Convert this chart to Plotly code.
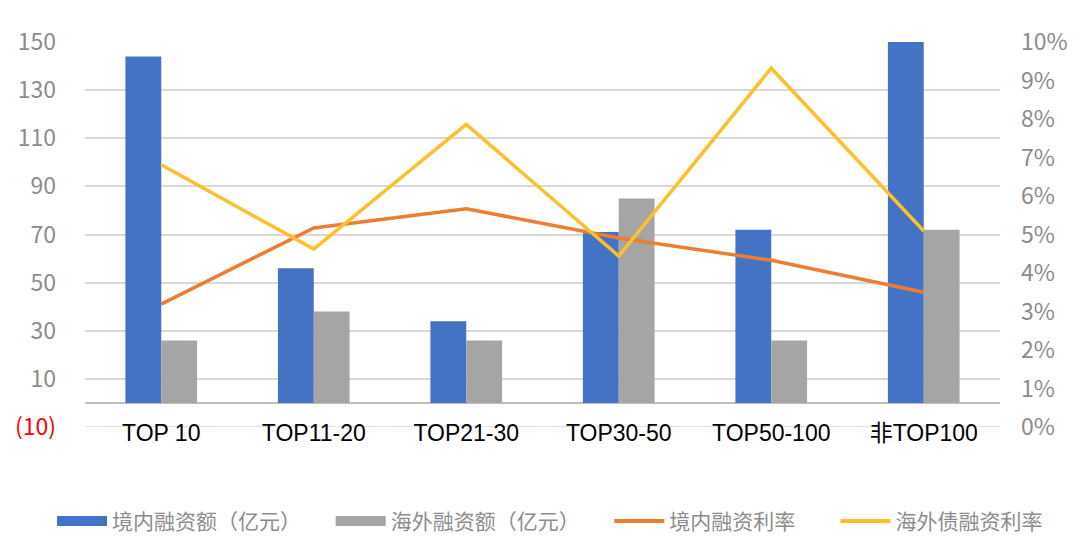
import plotly.graph_objects as go

# -----------------------------------------
# DATA
# -----------------------------------------
categories = ["TOP 10", "TOP11-20", "TOP21-30", "TOP30-50", "TOP50-100", "非TOP100"]
domestic_amount = [144, 56, 34, 71, 72, 160]   # 境内融资额 (亿元), last bar runs off the top
overseas_amount = [26, 38, 26, 85, 26, 72]     # 海外融资额 (亿元)
domestic_rate = [0.0319, 0.0517, 0.0567, 0.0491, 0.0433, 0.0350]
overseas_rate = [0.0681, 0.0462, 0.0786, 0.0444, 0.0932, 0.0509]

left_ticks = [-10, 10, 30, 50, 70, 90, 110, 130, 150]
left_text = ["<span style='color:#FF0000'>(10)</span>"] + [str(v) for v in left_ticks[1:]]

FONT = "Noto Sans CJK SC"
BLUE, GREY, ORANGE, YELLOW = "#4472C4", "#A5A5A5", "#ED7D31", "#FFC02E"
PAD = "\u3000\u00a0\u00a0\u00a0"   # extra room after each legend label

fig = go.Figure()

fig.add_trace(go.Bar(x=categories, y=domestic_amount, name="境内融资额（亿元）",
                     marker=dict(color=BLUE, line=dict(width=0)), showlegend=False))
fig.add_trace(go.Bar(x=categories, y=overseas_amount, name="海外融资额（亿元）",
                     marker=dict(color=GREY, line=dict(width=0)), showlegend=False))
fig.add_trace(go.Scatter(x=categories, y=domestic_rate, name="境内融资利率", yaxis="y2",
                         mode="lines", line=dict(color=ORANGE, width=3.5), showlegend=False))
fig.add_trace(go.Scatter(x=categories, y=overseas_rate, name="海外债融资利率", yaxis="y2",
                         mode="lines", line=dict(color=YELLOW, width=3.5), showlegend=False))

# legend entries: wide blocks for the bars, thin strokes for the lines
for name, color, w in [("境内融资额（亿元）" + PAD, BLUE, 12), ("海外融资额（亿元）" + PAD, GREY, 12),
                       ("境内融资利率" + PAD, ORANGE, 4), ("海外债融资利率", YELLOW, 4)]:
    fig.add_trace(go.Scatter(x=[None], y=[None], name=name, mode="lines",
                             line=dict(color=color, width=w), showlegend=True))

# gridline at the bottom edge (-10)
fig.add_shape(type="line", xref="paper", x0=0, x1=1, yref="y", y0=-10, y1=-10,
              line=dict(color="#D9D9D9", width=1.5), layer="below")

fig.update_layout(
    width=1080, height=559,
    margin=dict(l=77, r=88, t=34, b=140, autoexpand=False),
    plot_bgcolor="white", paper_bgcolor="white",
    font=dict(family=FONT, color="#8C8C8C"),
    barmode="group", bargap=0.53, bargroupgap=0,
    xaxis=dict(showgrid=False, ticks="", showline=False, ticklabelstandoff=-10,
               tickfont=dict(size=23, color="#000000", family="Liberation Sans, " + FONT)),
    yaxis=dict(range=[-10, 150], tickvals=left_ticks, ticktext=left_text,
               showgrid=True, gridcolor="#D9D9D9", gridwidth=1.5,
               zeroline=True, zerolinecolor="#BFBFBF", zerolinewidth=1.5,
               tickfont=dict(size=23, color="#8C8C8C"), ticklabelstandoff=28),
    yaxis2=dict(range=[0, 0.10], dtick=0.01, tickformat=".0%", overlaying="y", side="right",
                showgrid=False, zeroline=False,
                tickfont=dict(size=23, color="#8C8C8C"), ticklabelstandoff=20),
    legend=dict(orientation="h", x=-0.036, xanchor="left", y=-0.245, yanchor="middle",
                font=dict(size=21, color="#8C8C8C"), itemwidth=50, traceorder="normal"),
    showlegend=True,
)

fig.write_html("out.html")
